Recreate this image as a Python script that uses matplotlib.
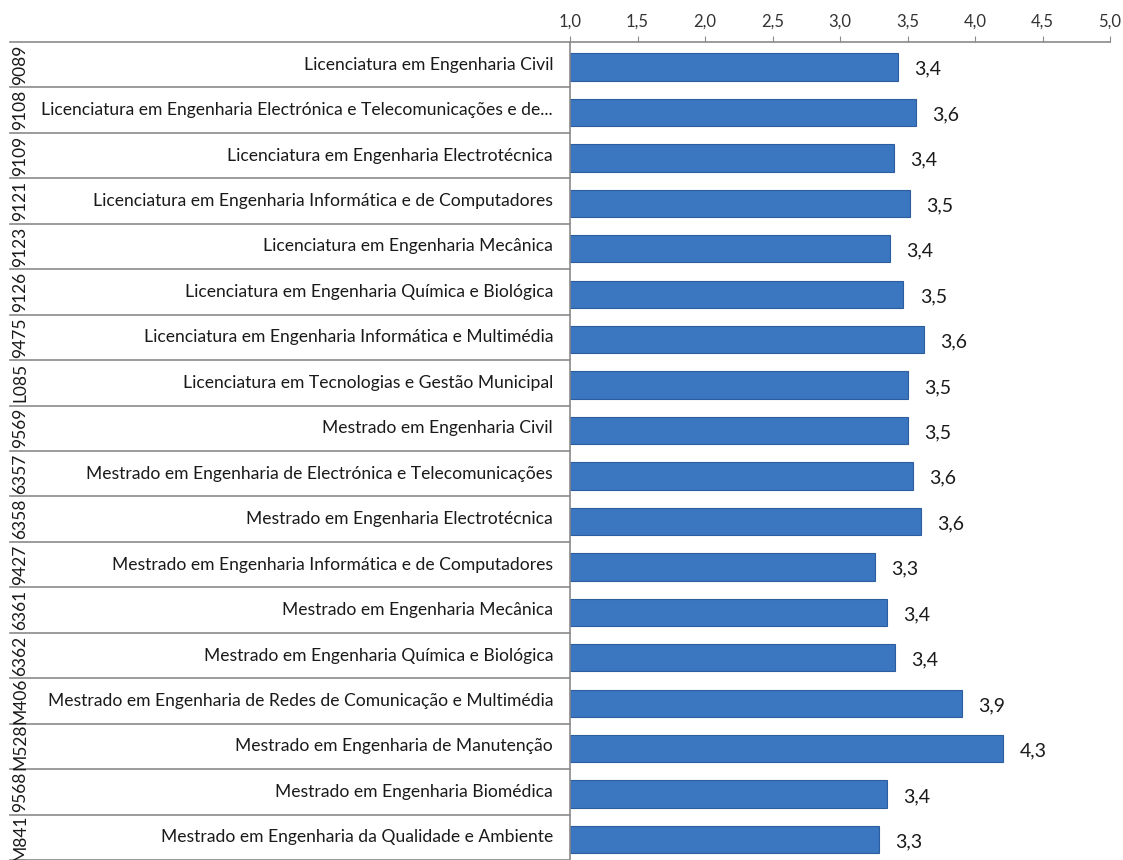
"""
Average score per course, horizontal bars with a code/name table on the left
"""
import matplotlib
matplotlib.use("Agg")
import matplotlib.pyplot as plt
from matplotlib.ticker import FuncFormatter

plt.rcParams['font.family'] = ['Lato', 'DejaVu Sans']

### data ###
codes = ["9089", "9108", "9109", "9121", "9123", "9126", "9475", "L085", "9569",
         "6357", "6358", "9427", "6361", "6362", "M406", "M528", "9568", "M841"]
courses = [
    "Licenciatura em Engenharia Civil",
    "Licenciatura em Engenharia Electrónica e Telecomunicações e de...",
    "Licenciatura em Engenharia Electrotécnica",
    "Licenciatura em Engenharia Informática e de Computadores",
    "Licenciatura em Engenharia Mecânica",
    "Licenciatura em Engenharia Química e Biológica",
    "Licenciatura em Engenharia Informática e Multimédia",
    "Licenciatura em Tecnologias e Gestão Municipal",
    "Mestrado em Engenharia Civil",
    "Mestrado em Engenharia de Electrónica e Telecomunicações",
    "Mestrado em Engenharia Electrotécnica",
    "Mestrado em Engenharia Informática e de Computadores",
    "Mestrado em Engenharia Mecânica",
    "Mestrado em Engenharia Química e Biológica",
    "Mestrado em Engenharia de Redes de Comunicação e Multimédia",
    "Mestrado em Engenharia de Manutenção",
    "Mestrado em Engenharia Biomédica",
    "Mestrado em Engenharia da Qualidade e Ambiente",
]
scores = [3.43, 3.56, 3.40, 3.52, 3.37, 3.47, 3.62, 3.50, 3.50,
          3.54, 3.60, 3.26, 3.35, 3.41, 3.90, 4.21, 3.35, 3.29]
score_labels = ["3,4", "3,6", "3,4", "3,5", "3,4", "3,5", "3,6", "3,5", "3,5",
                "3,6", "3,6", "3,3", "3,4", "3,4", "3,9", "4,3", "3,4", "3,3"]
x_ticks = [1.0, 1.5, 2.0, 2.5, 3.0, 3.5, 4.0, 4.5, 5.0]

W, H = 1123, 860
n = len(codes)
line_col = '#8a8a8a'

fig = plt.figure(figsize=(W / 100, H / 100), dpi=100)
fig.patch.set_facecolor('white')

# main bar axes
ax = fig.add_axes([570 / W, 0.0, (1110 - 570) / W, 1 - 42 / H])
rows = [i + 0.55 for i in range(n)]
ax.barh(rows, [s - 1.0 for s in scores], left=1.0, height=0.6,
        color='#3b76c0', edgecolor='#2c5e9f', linewidth=0.8, zorder=2)
for r, s, lab in zip(rows, scores, score_labels):
    ax.text(s + 0.12, r + 0.05, lab, va='center', ha='left', fontsize=14, color='#1a1a1a')

ax.set_xlim(1.0, 5.0)
ax.set_ylim(n, 0)
ax.set_xticks(x_ticks)
ax.xaxis.set_major_formatter(FuncFormatter(lambda v, p: f"{v:.1f}".replace('.', ',')))
ax.xaxis.tick_top()
ax.tick_params(axis='x', direction='out', length=4, color=line_col, labelsize=12,
               labelcolor='#333333', pad=5)
ax.set_yticks([])
for side in ['right', 'bottom']:
    ax.spines[side].set_visible(False)
ax.spines['top'].set_color(line_col)
ax.spines['left'].set_color(line_col)
ax.spines['top'].set_linewidth(1.2)
ax.spines['left'].set_linewidth(1.2)

# table with codes and course names
tab = fig.add_axes([10 / W, 0.0, (570 - 10) / W, 1 - 42 / H])
tab.set_xlim(0, 1)
tab.set_ylim(n, 0)
tab.axis('off')
for k in range(n + 1):
    tab.axhline(k, color=line_col, linewidth=1.2, clip_on=False)
for i in range(n):
    tab.text(10 / 560, i + 0.5, codes[i], rotation=90, ha='center', va='center',
             fontsize=12.5, color='#1a1a1a')
    tab.text(543 / 560, i + 0.5, courses[i], ha='right', va='center',
             fontsize=12.6, color='#1a1a1a')

fig.savefig('out.png', dpi=100, facecolor='white')
